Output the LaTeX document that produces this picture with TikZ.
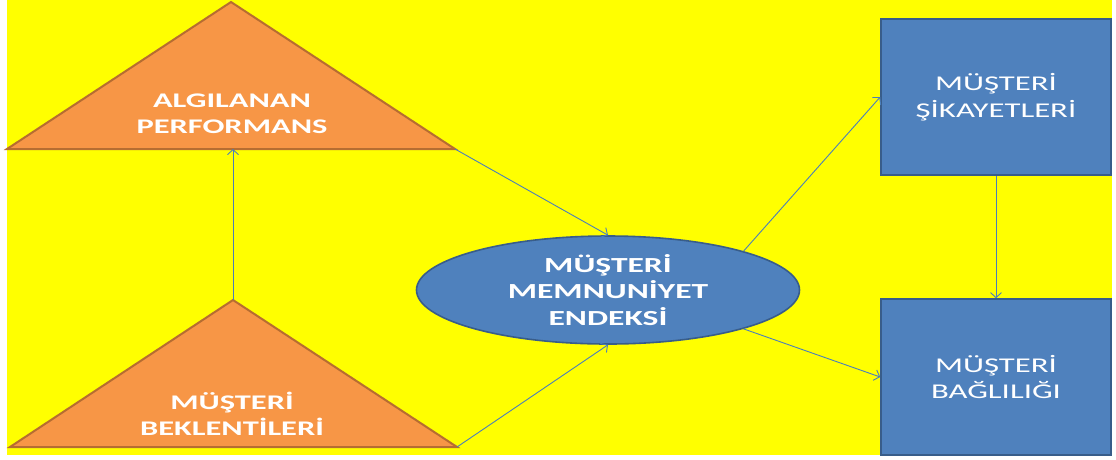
\documentclass[tikz,border=0pt]{standalone}
\usepackage{fontspec}
\setmainfont{Carlito}[FakeStretch=1.56]
\usepackage{tikz}
\usetikzlibrary{positioning, arrows.meta, shapes.geometric}
\definecolor{bgyellow}{HTML}{FFFF00}
\definecolor{triorange}{HTML}{F79646}
\definecolor{triedge}{HTML}{B66D31}
\definecolor{boxblue}{HTML}{4F81BD}
\definecolor{boxedge}{HTML}{385D8A}
\definecolor{linkblue}{HTML}{4A7EBB}

\begin{document}
\begin{tikzpicture}[
  x=1pt, y=-1pt,
  every node/.style={font=\fontsize{21}{26.5}\selectfont, text=white, align=center},
  tri/.style={draw=triedge, fill=triorange, line width=2pt, line join=miter},
  tritext/.style={font=\bfseries\fontsize{20.8}{26}\selectfont},
  oval/.style={
    ellipse, draw=boxedge, fill=boxblue, line width=1.6pt,
    minimum width=383pt, minimum height=108pt, inner sep=0pt,
    font=\bfseries\fontsize{21.5}{26.5}\selectfont
  },
  outbox/.style={
    draw=boxedge, fill=boxblue, line width=1.6pt,
    minimum width=230pt, minimum height=156pt, inner sep=0pt
  },
  link/.style={-{Straight Barb[length=5pt, width=11pt]}, linkblue, line width=0.9pt}
]
  \useasboundingbox (0,0) rectangle (1116,459);
  \fill[bgyellow] (7,0) rectangle (1112,455);

  % triangles
  \draw[tri] (7,149) coordinate (perf-l) -- (231,2) -- (455,149) coordinate (perf-r) -- cycle;
  \coordinate (perf-b) at (233,149);
  \node[tritext] (perf) at (232,114) {ALGILANAN\\PERFORMANS};

  \draw[tri] (10,447) -- (233,300) coordinate (expt-t) -- (457,447) coordinate (expt-r) -- cycle;
  \node[tritext] (expt) at (232,414) {MÜŞTERİ\\BEKLENTİLERİ};

  \node[oval] (msi) at (608,290) {MÜŞTERİ\\MEMNUNİYET\\ENDEKSİ};

  \node[outbox] (compl) at (996,97) {MÜŞTERİ\\ŞİKAYETLERİ};
  \node[outbox] (loyal) at (996,377) {MÜŞTERİ\\BAĞLILIĞI};

  \draw[link] (expt-t) -- (perf-b);
  \draw[link] (perf-r) -- (msi.north);
  \draw[link] (expt-r) -- (msi.south);
  \draw[link] (msi.16) -- (compl.west);
  \draw[link] (msi.-16) -- (loyal.west);
  \draw[link] (compl.south) -- (loyal.north);
\end{tikzpicture}
\end{document}
